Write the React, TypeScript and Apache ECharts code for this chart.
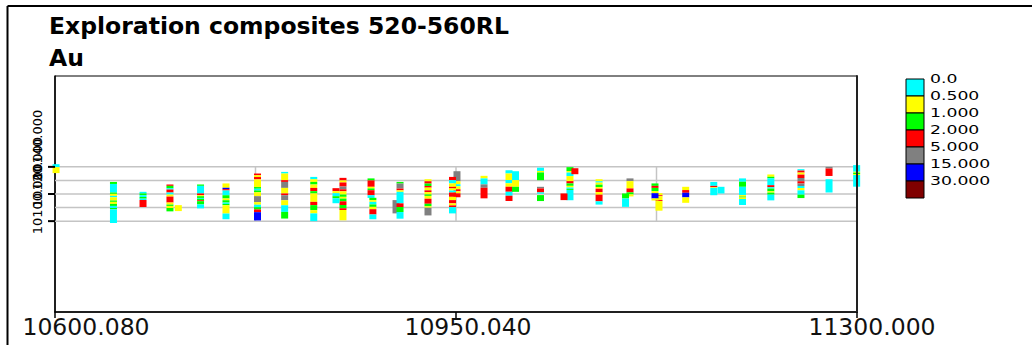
import React, { useEffect, useRef } from "react";
import * as echarts from "echarts";

const titleText = "Exploration composites 520-560RL";
const subTitleText = "Au";

const xMin = 10600.08;
const xMax = 11300.0;
const xTickValues = [10600.08, 10950.04, 11300.0];
const yMin = 10033;
const yMax = 10207;
const yTickValues = [10100, 10120, 10140];
const gridNorthings = [10100, 10110, 10120, 10130, 10140];
const gridEastings = [10775.06, 10950.04, 11125.02];

const legendThresholds = [0, 0.5, 1, 2, 5, 15, 30];
const legendLabels = ["0.0", "0.500", "1.000", "2.000", "5.000", "15.000", "30.000"];
const legendColors = ["#00FFFF", "#FFFF00", "#00FF00", "#FF0000", "#808080", "#0000FF", "#800000"];

// drill-hole composites: easting, top RL, then [length (m), Au grade] downwards (null = no sample)
const holeEastings = [
  10601.0, 10651.1, 10676.9, 10700.4, 10707.7, 10727.1, 10749.3, 10776.8, 10800.5, 10825.9,
  10851.4, 10845.3, 10875.9, 10877.5, 10897.7, 10901.2, 10925.6, 10950.9, 10947.0, 10974.5,
  10996.3, 11002.0, 11023.8, 11049.5, 11053.8, 11044.3, 11074.9, 11101.9, 11098.0, 11127.2,
  11123.7, 11150.5, 11175.0, 11181.3, 11200.1, 11224.8, 11251.1, 11275.6, 11299.7,
];
const holeTopRLs = [
  10142.0, 10128.9, 10121.6, 10127.0, 10111.8, 10127.0, 10127.8, 10135.1, 10136.3, 10132.6,
  10131.9, 10124.3, 10131.5, 10117.2, 10115.5, 10128.9, 10130.9, 10136.8, 10132.6, 10133.4,
  10137.6, 10136.8, 10139.4, 10139.8, 10139.0, 10120.4, 10130.9, 10131.5, 10120.4, 10120.6,
  10127.8, 10125.3, 10128.9, 10125.3, 10131.5, 10134.4, 10138.3, 10140.0, 10141.3,
];
const holeIntervals: (number | null)[][][] = [
  [[2.2, 0.2], [4.4, 0.7]],
  [[1.5, 1.5], [6.3, 0.2], [1.0, 1.5], [1.5, 0.7], [1.0, 0.2], [2.4, 0.7], [1.0, 1.5], [1.5, 0.7], [1.5, 1.5], [1.5, 0.2], [1.0, 1.5], [10.1, 0.2]],
  [[1.2, 0.2], [1.3, 1.5], [1.3, 0.2], [1.2, 1.5], [1.0, 0.2], [5.2, 3.0]],
  [[1.0, 3.0], [1.7, 1.5], [1.0, 0.2], [2.2, 3.0], [1.5, 0.2], [1.5, 0.7], [4.4, 3.0], [1.5, 0.7], [1.0, 1.5], [1.5, 0.7], [2.5, 1.5]],
  [[4.4, 0.7]],
  [[1.0, 1.5], [5.6, 0.2], [1.3, 3.0], [0.7, 0.7], [1.3, 1.5], [0.7, 0.2], [1.0, 1.5], [0.7, 3.0], [2.4, 1.5], [2.9, 0.2]],
  [[3.2, 0.7], [1.0, 20], [1.0, 3.0], [3.5, 0.2], [2.4, 1.5], [1.3, 0.7], [1.7, 1.5], [1.0, 0.2], [1.0, 1.5], [6.1, 0.7], [4.2, 0.2]],
  [[1.3, 3.0], [1.3, 0.7], [1.7, 3.0], [5.7, 0.7], [1.2, 1.5], [1.3, 0.2], [1.3, 1.5], [2.9, 0.7], [4.4, 8.0], [1.9, 0.7], [1.8, 0.2], [1.7, 1.5], [2.0, 3.0], [6.1, 20]],
  [[1.2, 0.2], [4.9, 0.7], [1.3, 3.0], [4.4, 8.0], [4.1, 0.7], [1.3, 3.0], [3.7, 8.0], [3.7, 0.7], [4.9, 0.2], [4.9, 1.5]],
  [[1.7, 0.2], [2.0, 0.7], [1.9, 1.5], [2.5, 0.7], [2.4, 3.0], [1.7, 1.5], [6.2, 0.7], [2.4, 3.0], [3.7, 1.5], [2.4, 0.7], [5.7, 0.2]],
  [[1.9, 3.0], [1.5, 0.7], [3.0, 3.0], [2.0, 8.0], [1.5, 3.0], [2.4, 0.7], [1.7, 1.5], [1.3, 0.7], [2.0, 1.5], [2.7, 3.0], [2.4, 1.5], [1.3, 3.0], [7.6, 0.7]],
  [[2.2, 3.0], [1.5, 0.7], [2.2, 0.2], [1.5, 1.5], [3.7, 0.2]],
  [[1.5, 1.5], [4.7, 3.0], [1.2, 0.7], [1.3, 1.5], [3.7, 3.0], [2.0, 0.2]],
  [[1.7, 1.5], [1.3, 0.7], [1.9, 0.2], [1.8, 1.5], [1.7, 0.7], [3.9, 3.0], [3.5, 0.2]],
  [[9.8, 8.0]],
  [[1.2, 1.5], [3.7, 8.0], [1.3, 3.0], [1.1, 0.7], [8.5, 0.2], [2.7, 3.0], [3.7, 1.5], [4.9, 0.2]],
  [[1.5, 0.7], [1.7, 3.0], [1.8, 1.5], [1.2, 3.0], [2.0, 0.7], [1.3, 3.0], [1.7, 0.7], [1.1, 1.5], [2.1, 0.7], [3.7, 3.0], [1.8, 1.5], [1.1, 0.7], [5.7, 8.0]],
  [[7.4, 8.0], [2.2, 0.7], [1.5, 0.2], [2.2, 0.7], [1.5, 3.0], [1.5, 0.7], [2.9, 3.0]],
  [[2.4, 3.0], [2.4, 0.2], [2.5, 0.7], [1.2, 3.0], [1.5, 0.7], [1.5, 0.2], [3.2, 3.0], [2.4, 0.7], [2.4, 3.0], [1.5, 0.7], [1.3, 3.0], [4.6, 0.2]],
  [[1.9, 0.7], [4.4, 0.2], [2.5, 8.0], [7.8, 3.0]],
  [[2.4, 0.2], [4.9, 0.7], [2.4, 0.2], [2.5, 0.7], [3.7, 3.0], [2.9, 0.2], [3.9, 3.0]],
  [[6.6, 0.2], [4.9, 0.7], [3.7, 1.5]],
  [[2.4, 0.2], [1.1, 0.7], [5.7, 1.5], [4.9, null], [1.2, 8.0], [2.9, 3.0], [1.0, 0.2], [1.0, null], [4.4, 1.5]],
  [[2.9, 1.5], [1.1, 0.7], [2.6, 0.2], [3.7, 0.7], [1.7, 3.0], [1.8, 1.5], [1.2, 0.7], [1.0, 0.2], [0.8, 1.5], [7.6, 0.2]],
  [[4.4, 3.0]],
  [[4.9, 3.0]],
  [[1.5, 0.7], [1.0, 0.2], [1.5, 0.7], [1.8, 1.5], [1.2, 0.7], [2.5, 3.0], [1.9, 0.7], [4.9, 3.0], [2.4, 0.2]],
  [[2.0, 8.0], [5.4, 0.7], [2.9, 3.0], [1.5, 1.5], [1.5, 0.7]],
  [[3.7, 1.5], [6.2, 0.2]],
  [[1.5, 0.7], [0.7, 3.0], [2.9, 0.7], [0.7, 3.0], [7.1, 0.7]],
  [[1.8, 1.5], [1.5, 3.0], [2.4, 1.5], [1.5, 0.7], [3.9, 20], [1.5, 0.7]],
  [[2.4, 0.7], [2.0, 3.0], [3.4, 20], [4.0, 0.7]],
  [[2.9, 0.2], [1.0, 3.0], [0.5, 0.7], [5.4, 0.2]],
  [[4.9, 0.2]],
  [[2.5, 0.2], [3.7, 1.5], [6.1, 0.2], [1.1, 0.7], [0.7, 1.5], [1.1, 0.7], [4.4, 0.2]],
  [[1.7, 0.7], [1.1, 1.5], [5.1, 0.2], [1.5, 3.0], [1.0, 0.2], [2.0, 1.5], [1.0, 0.7], [1.5, 1.5], [4.2, 0.2]],
  [[1.0, 0.2], [1.5, 3.0], [1.5, 0.7], [2.5, 3.0], [2.4, 8.0], [1.7, 3.0], [1.8, 8.0], [1.5, 0.2], [1.7, 0.7], [3.2, 0.2], [2.5, 1.5]],
  [[1.2, 8.0], [5.5, 3.0], [2.4, null], [9.8, 0.2]],
  [[4.9, 0.2], [0.7, 0.7], [1.0, 1.5], [0.7, 0.7], [8.6, 0.2]],
];

const colorFor = (g: number) => {
  let c = legendColors[0];
  for (let i = 0; i < legendThresholds.length; i++) if (g >= legendThresholds[i]) c = legendColors[i];
  return c;
};

const segments: number[][] = [];
holeEastings.forEach((e, i) => {
  let rl = holeTopRLs[i];
  holeIntervals[i].forEach(([len, g]) => {
    const next = +(rl - (len as number)).toFixed(2);
    if (g !== null) segments.push([e, rl, next, g as number]);
    rl = next;
  });
});

const FONT = "DejaVu Sans";

export default function App() {
  const ref = useRef<HTMLDivElement>(null);
  useEffect(() => {
    if (!ref.current) return;
    const chart = echarts.init(ref.current, undefined, { renderer: "svg" });

    const legendItems: any[] = [];
    legendColors.forEach((c, i) => {
      legendItems.push({
        type: "rect",
        shape: { x: 906, y: 79 + 17 * i, width: 18, height: 17 },
        style: { fill: c, stroke: "#000", lineWidth: 1 },
      });
    });
    legendLabels.forEach((t, i) => {
      legendItems.push({
        type: "text",
        x: 930,
        y: 79 + 17 * i,
        scaleX: 1.5,
        style: { text: t, fontFamily: FONT, fontSize: 11.5, fill: "#000", align: "left", verticalAlign: "middle" },
      });
    });

    const xLabelStyle = { fontFamily: FONT, fontSize: 23.5, color: "#111" };

    const option: any = {
      animation: false,
      backgroundColor: "#ffffff",
      title: {
        left: 49,
        top: 14,
        padding: 0,
        itemGap: 8,
        text: titleText,
        subtext: subTitleText,
        textStyle: { fontFamily: FONT, fontWeight: "bold", fontSize: 23.5, color: "#000" },
        subtextStyle: { fontFamily: FONT, fontWeight: "bold", fontSize: 23.5, color: "#000" },
      },
      grid: {
        left: 55,
        right: 175,
        top: 76,
        bottom: 33,
        show: true,
        borderColor: "#000",
        borderWidth: 1,
        containLabel: false,
        outerBoundsMode: "none",
      },
      xAxis: {
        type: "value",
        min: xMin,
        max: xMax,
        position: "bottom",
        axisLine: { show: true, onZero: false, lineStyle: { color: "#000", width: 1.5 } },
        axisTick: { show: false },
        axisLabel: {
          customValues: xTickValues,
          hideOverlap: false,
          margin: 3,
          formatter: (v: number) => {
            let idx = 0;
            xTickValues.forEach((t, i) => {
              if (Math.abs(t - v) < Math.abs(xTickValues[idx] - v)) idx = i;
            });
            return `{t${idx}|${v.toFixed(3)}}`;
          },
          rich: {
            t0: { ...xLabelStyle, padding: [0, 0, 0, 62] },
            t1: { ...xLabelStyle, padding: [0, 0, 0, 24] },
            t2: { ...xLabelStyle, padding: [0, 0, 0, 30] },
          },
        },
        splitLine: { show: false },
      },
      yAxis: [
        {
          type: "value",
          min: yMin,
          max: yMax,
          position: "left",
          axisLine: { show: true, onZero: false, lineStyle: { color: "#000", width: 1.5 } },
          axisTick: { show: false },
          axisLabel: { show: false },
          splitLine: { show: false },
        },
        {
          type: "value",
          min: yMin,
          max: yMax,
          position: "right",
          z: 5,
          axisLine: { show: true, onZero: false, lineStyle: { color: "#222", width: 2 } },
          axisTick: { show: false },
          axisLabel: { show: false },
          splitLine: { show: false },
        },
      ],
      graphic: [
        { type: "line", shape: { x1: 7.5, y1: 6, x2: 7.5, y2: 345 }, style: { stroke: "#000", lineWidth: 2 } },
        { type: "line", shape: { x1: 7.5, y1: 6, x2: 1032, y2: 6 }, style: { stroke: "#000", lineWidth: 2 } },
        { type: "group", children: legendItems },
      ],
      series: [
        {
          type: "custom",
          name: "gridN",
          coordinateSystem: "cartesian2d",
          encode: { x: 0, y: 1 },
          data: gridNorthings.map((n) => [xMin, n]),
          silent: true,
          renderItem: (_p: any, api: any) => {
            const n = api.value(1);
            const a = api.coord([xMin, n]);
            const b = api.coord([xMax, n]);
            return {
              type: "line",
              shape: { x1: a[0], y1: a[1], x2: b[0], y2: b[1] },
              style: { stroke: "#c4c4c4", lineWidth: 1.5 },
            };
          },
        },
        {
          type: "custom",
          name: "gridE",
          coordinateSystem: "cartesian2d",
          encode: { x: 0, y: 1 },
          data: gridEastings.map((e) => [e, gridNorthings[0]]),
          silent: true,
          renderItem: (_p: any, api: any) => {
            const e = api.value(0);
            const a = api.coord([e, gridNorthings[0]]);
            const b = api.coord([e, gridNorthings[gridNorthings.length - 1]]);
            return {
              type: "line",
              shape: { x1: a[0], y1: a[1], x2: b[0], y2: b[1] },
              style: { stroke: "#c4c4c4", lineWidth: 1.5 },
            };
          },
        },
        {
          type: "custom",
          name: "yTicks",
          coordinateSystem: "cartesian2d",
          encode: { x: 0, y: 1 },
          data: yTickValues.map((v) => [xMin, v]),
          silent: true,
          clip: false,
          z: 6,
          renderItem: (_p: any, api: any) => {
            const v = api.value(1);
            const p = api.coord([xMin, v]);
            return {
              type: "group",
              children: [
                {
                  type: "line",
                  shape: { x1: p[0] - 7, y1: p[1], x2: p[0], y2: p[1] },
                  style: { stroke: "#000", lineWidth: 2 },
                },
                {
                  type: "text",
                  x: p[0] - 11,
                  y: p[1] - 22,
                  rotation: Math.PI / 2,
                  style: {
                    text: Number(v).toFixed(3),
                    fontFamily: FONT,
                    fontSize: 13,
                    fill: "#000",
                    align: "center",
                    verticalAlign: "bottom",
                  },
                },
              ],
            };
          },
        },
        {
          type: "custom",
          name: "xTicks",
          coordinateSystem: "cartesian2d",
          encode: { x: 0, y: 1 },
          data: xTickValues.map((v) => [v, yMin]),
          silent: true,
          clip: false,
          z: 6,
          renderItem: (_p: any, api: any) => {
            const p = api.coord([api.value(0), yMin]);
            return {
              type: "line",
              shape: { x1: p[0], y1: p[1], x2: p[0], y2: p[1] + 6 },
              style: { stroke: "#000", lineWidth: 1.5 },
            };
          },
        },
        {
          type: "custom",
          name: "Au",
          coordinateSystem: "cartesian2d",
          encode: { x: 0, y: [1, 2] },
          data: segments,
          clip: false,
          renderItem: (_p: any, api: any) => {
            const e = api.value(0);
            const t = api.value(1);
            const b = api.value(2);
            const g = api.value(3);
            const p1 = api.coord([e, t]);
            const p2 = api.coord([e, b]);
            return {
              type: "rect",
              shape: { x: p1[0] - 3.5, y: p1[1], width: 7, height: p2[1] - p1[1] },
              style: { fill: colorFor(g) },
            };
          },
        },
      ],
    };
    chart.setOption(option);
    return () => chart.dispose();
  }, []);
  return (
    <div
      ref={ref}
      style={{ position: "fixed", left: 0, top: 0, width: 1032, height: 345, background: "#fff" }}
    />
  );
}
